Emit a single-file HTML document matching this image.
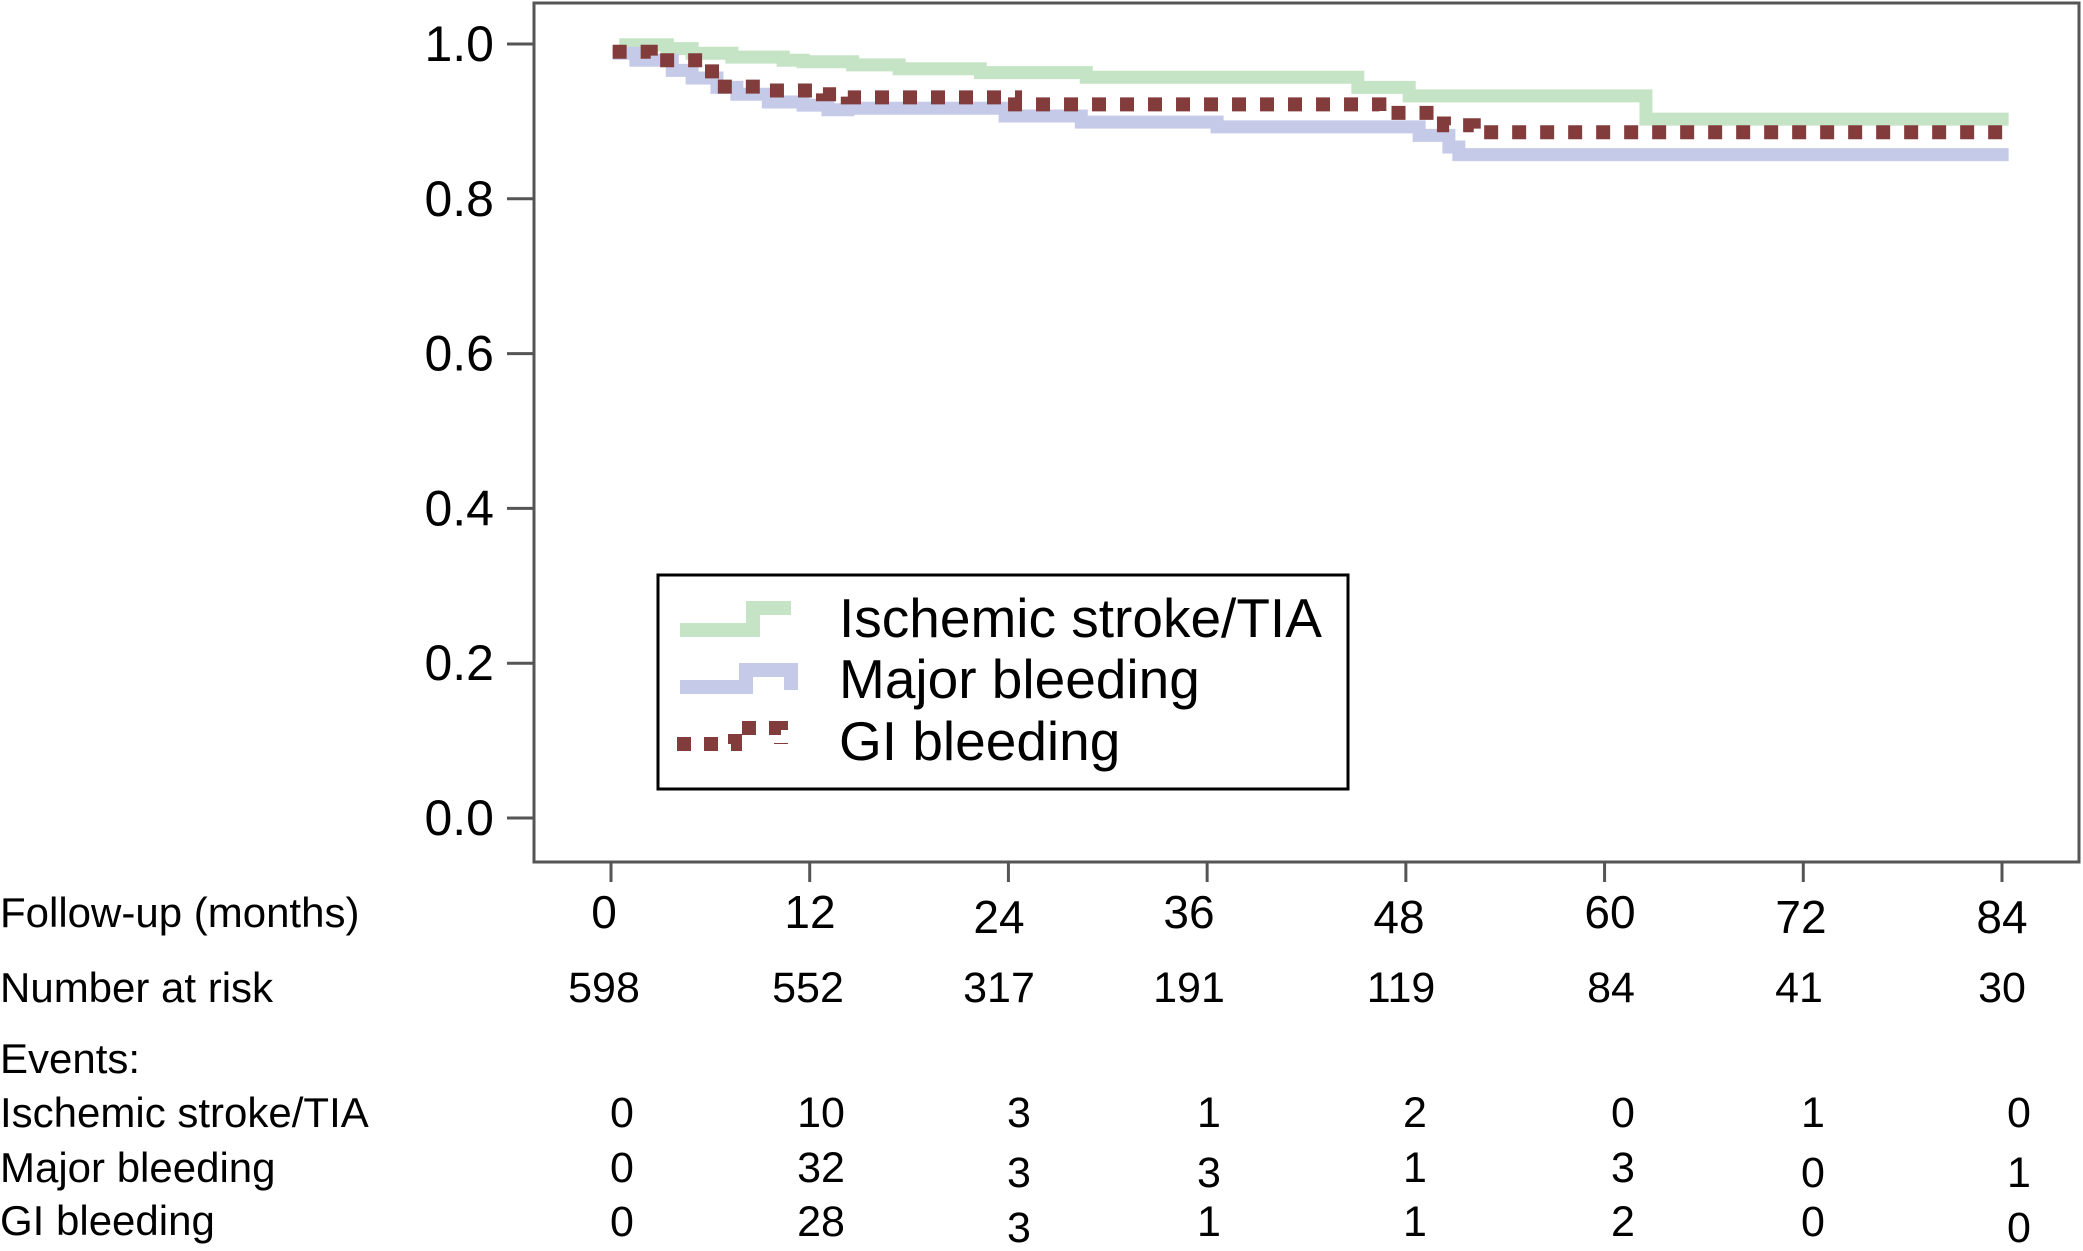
<!DOCTYPE html>
<html><head><meta charset="utf-8"><style>
html,body{margin:0;padding:0;background:#fff}
svg{display:block}
text{font-family:"Liberation Sans",Arial,sans-serif;fill:#000}
</style></head><body>
<svg id="chart" width="2083" height="1251" viewBox="0 0 2083 1251" xmlns="http://www.w3.org/2000/svg">
<rect x="534" y="3" width="1545" height="859" fill="#fff" stroke="#555" stroke-width="3"/>
<g id="yaxis"></g>
<g id="xaxis"></g>
<g id="series"></g>
<g>
<rect x="658" y="575" width="690" height="214" fill="#fff" stroke="#000" stroke-width="3"/>
<path d="M680,630 H753 V608 H791" fill="none" stroke="#c5e3c5" stroke-width="14"/>
<path d="M680,687 H746 V670 H791 V690" fill="none" stroke="#c5cae8" stroke-width="14"/>
<path d="M677,744 H735 V728 H781 V744" fill="none" stroke="#833c3c" stroke-width="14" stroke-dasharray="14,13"/>
<text x="839" y="637" font-size="55">Ischemic stroke/TIA</text>
<text x="839" y="698" font-size="55">Major bleeding</text>
<text x="839" y="760" font-size="55">GI bleeding</text>
</g>
<g>
<text x="0" y="927" font-size="42">Follow-up (months)</text>
<text x="0" y="1002" font-size="42">Number at risk</text>
<text x="0" y="1073" font-size="42">Events:</text>
<text x="0" y="1127" font-size="42">Ischemic stroke/TIA</text>
<text x="0" y="1182" font-size="42">Major bleeding</text>
<text x="0" y="1235" font-size="42">GI bleeding</text>
</g>
<g id="table"></g>
</svg>
<script>
const xTicks = [0, 12, 24, 36, 48, 60, 72, 84];
const yTicks = [0, 0.2, 0.4, 0.6, 0.8, 1.0];
const atRisk = [598, 552, 317, 191, 119, 84, 41, 30];
const eventsIschemic = [0, 10, 3, 1, 2, 0, 1, 0];
const eventsMajor = [0, 32, 3, 3, 1, 3, 0, 1];
const eventsGI = [0, 28, 3, 1, 1, 2, 0, 0];
const ischemicT = [0.5, 3.4, 4.9, 7.3, 10.4, 11.6, 14.6, 17.4, 22.3, 28.7, 45.1, 48.2, 62.5, 84.4];
const ischemicS = [0.999, 0.994, 0.988, 0.983, 0.979, 0.977, 0.973, 0.968, 0.963, 0.957, 0.944, 0.933, 0.903, 0.903];
const majorT = [0.1, 1.5, 3.7, 4.9, 6.4, 7.6, 9.5, 11.6, 13.1, 14.3, 23.8, 28.4, 36.6, 48.8, 50.6, 51.2, 84.4];
const majorS = [0.988, 0.979, 0.966, 0.956, 0.944, 0.935, 0.925, 0.921, 0.915, 0.917, 0.907, 0.899, 0.893, 0.882, 0.867, 0.857, 0.857];
const giT = [0.1, 2.4, 6.1, 9.5, 12.8, 14.3, 24.4, 46.4, 50.3, 52.1, 84.4];
const giS = [0.99, 0.979, 0.945, 0.94, 0.935, 0.931, 0.922, 0.911, 0.895, 0.886, 0.886];

const NS = 'http://www.w3.org/2000/svg';
function xs(m){ return 611 + m * (2002 - 611) / 84; }
function ys(v){ return 818 - v * (818 - 44); }
function mk(tag, attrs, parent){ const e = document.createElementNS(NS, tag); for (const k in attrs) e.setAttribute(k, attrs[k]); parent.appendChild(e); return e; }

const yaxis = document.getElementById('yaxis');
yTicks.forEach(v => {
  const t = mk('line', {x1: 507, x2: 534, y1: ys(v), y2: ys(v), stroke: '#555', 'stroke-width': 3}, yaxis);
  
  
  const l = mk('text', {x: 494, y: ys(v) + 17, 'font-size': 50, 'text-anchor': 'end'}, yaxis);
  
  
  l.textContent = v.toFixed(1);
});

const xaxis = document.getElementById('xaxis');
const xLabelX = [604, 810, 999, 1189, 1399, 1610, 1801, 2002];
const xLabelY = [928, 928, 933, 928, 933, 928, 933, 933];
xTicks.forEach((m, i) => {
  const t = mk('line', {x1: xs(m), x2: xs(m), y1: 862, y2: 882, stroke: '#555', 'stroke-width': 3}, xaxis);
  
  
  const l = mk('text', {x: xLabelX[i], y: xLabelY[i], 'font-size': 46, 'text-anchor': 'middle'}, xaxis);
  
  
  l.textContent = m;
});

function stepPath(T, S){
  let d = 'M' + xs(T[0]) + ',' + ys(S[0]);
  for (let i = 1; i < T.length; i++){
    d += ' H' + xs(T[i]) + ' V' + ys(S[i]);
  }
  return d;
}
const series = document.getElementById('series');
const pg = mk('path', {d: stepPath(ischemicT, ischemicS), fill: 'none', stroke: '#c5e3c5', 'stroke-width': 13}, series);


const pb = mk('path', {d: stepPath(majorT, majorS), fill: 'none', stroke: '#c5cae8', 'stroke-width': 13}, series);


const pr = mk('path', {d: stepPath(giT, giS), fill: 'none', stroke: '#833c3c', 'stroke-width': 14, 'stroke-dasharray': '14,14'}, series);



const table = document.getElementById('table');
const riskX = [604, 808, 999, 1189, 1401, 1611, 1799, 2002];
const evX = [622, 821, 1019, 1209, 1415, 1623, 1813, 2019];
const majorY = [1182, 1182, 1187, 1187, 1182, 1182, 1187, 1187];
const giY = [1236, 1236, 1242, 1236, 1236, 1236, 1236, 1242];
atRisk.forEach((v, i) => {
  const t = mk('text', {x: riskX[i], y: 1002, 'font-size': 43, 'text-anchor': 'middle'}, table);
  
  
  t.textContent = v;
});
eventsIschemic.forEach((v, i) => {
  const t = mk('text', {x: evX[i], y: 1127, 'font-size': 43, 'text-anchor': 'middle'}, table);
  
  
  t.textContent = v;
});
eventsMajor.forEach((v, i) => {
  const t = mk('text', {x: evX[i], y: majorY[i], 'font-size': 43, 'text-anchor': 'middle'}, table);
  
  
  t.textContent = v;
});
eventsGI.forEach((v, i) => {
  const t = mk('text', {x: evX[i], y: giY[i], 'font-size': 43, 'text-anchor': 'middle'}, table);
  
  
  t.textContent = v;
});
</script>
</body></html>
